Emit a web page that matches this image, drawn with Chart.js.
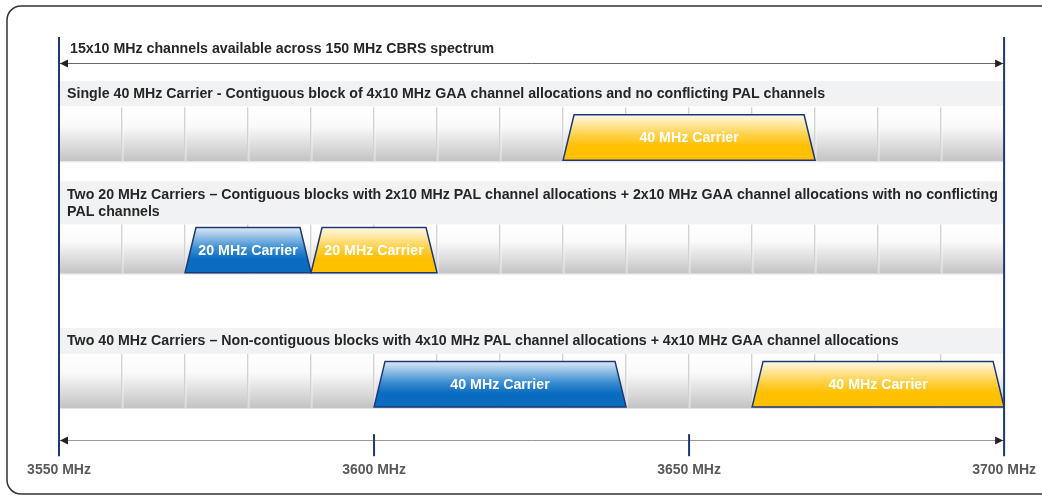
<!DOCTYPE html>
<html lang="en">
<head>
    <meta charset="UTF-8">
    <title>CBRS Channel Allocations</title>
    <script src="https://cdn.jsdelivr.net/npm/chart.js"></script>
    <style>
        html, body { margin: 0; padding: 0; background: #fff; }
        #wrap { width: 1042px; height: 496px; }
    </style>
</head>
<body>
<div id="wrap"><canvas id="myChart"></canvas></div>
<script>
    // ---- data ----
    const spectrumTitle = "15x10 MHz channels available across 150 MHz CBRS spectrum";
    const axisTicks = [3550, 3600, 3650, 3700];
    const channelStarts = [3550, 3560, 3570, 3580, 3590, 3600, 3610, 3620, 3630, 3640, 3650, 3660, 3670, 3680, 3690];
    const channelWidth = 10;
    const rowTitles = [
        ["Single 40 MHz Carrier - Contiguous block of 4x10 MHz GAA channel allocations and no conflicting PAL channels"],
        ["Two 20 MHz Carriers \u2013 Contiguous blocks with 2x10 MHz PAL channel allocations + 2x10 MHz GAA channel allocations with no conflicting",
         "PAL channels"],
        ["Two 40 MHz Carriers \u2013 Non-contiguous blocks with 4x10 MHz PAL channel allocations + 4x10 MHz GAA channel allocations"]
    ];
    const carrierRow = [0, 1, 1, 2, 2];
    const carrierFrom = [3630, 3570, 3590, 3600, 3660];
    const carrierTo = [3670, 3590, 3610, 3640, 3700];
    const carrierKind = ["GAA", "PAL", "GAA", "PAL", "GAA"];
    const carrierLabels = ["40 MHz Carrier", "20 MHz Carrier", "20 MHz Carrier", "40 MHz Carrier", "40 MHz Carrier"];

    // ---- layout (y scale units, 0 = top of plot area) ----
    const rowLayout = [
        { band: [44, 69], text: [57], cells: [70, 124], carrier: [77.5, 123] },
        { band: [144, 187], text: [158, 175], cells: [187, 236], carrier: [190, 235] },
        { band: [290, 316], text: [303], cells: [316, 370], carrier: [323.5, 369] }
    ];
    const titleY = 12, topArrowY = 26, bottomArrowY = 402, tickTop = 396;
    const FONT = '"Liberation Sans", Arial, Helvetica, sans-serif';
    const navy = "#1d3876";
    const kindColors = {
        PAL: { top: "#dde9f6", mid: "#3d8fd2", bottom: "#0a6cbf" },
        GAA: { top: "#fffaea", mid: "#ffd046", bottom: "#ffc000" }
    };

    function arrowHead(ctx, x, y, dir) {
        ctx.beginPath();
        ctx.moveTo(x, y);
        ctx.lineTo(x - dir * 8, y - 4);
        ctx.lineTo(x - dir * 8, y + 4);
        ctx.closePath();
        ctx.fill();
    }

    const framePlugin = {
        id: "frame",
        beforeDraw(chart) {
            const ctx = chart.ctx;
            ctx.save();
            ctx.strokeStyle = "#333";
            ctx.lineWidth = 1.5;
            ctx.beginPath();
            ctx.roundRect(7, 6, chart.width + 20, 488, 14);
            ctx.stroke();
            ctx.restore();
        }
    };

    const spectrumPlugin = {
        id: "spectrum",
        afterDraw(chart) {
            const ctx = chart.ctx;
            const x = chart.scales.x, y = chart.scales.y;
            const xl = x.getPixelForValue(axisTicks[0]);
            const xr = x.getPixelForValue(axisTicks[axisTicks.length - 1]);
            ctx.save();

            // spectrum title + arrows
            ctx.font = "bold 14.2px " + FONT;
            ctx.fillStyle = "#262626";
            ctx.textBaseline = "middle";
            ctx.fillText(spectrumTitle, xl + 11, y.getPixelForValue(titleY));

            [topArrowY, bottomArrowY].forEach((v, i) => {
                const py = Math.round(y.getPixelForValue(v)) + 0.5;
                ctx.strokeStyle = i === 0 ? "#666" : "#999";
                ctx.lineWidth = 1;
                ctx.beginPath();
                ctx.moveTo(xl, py);
                ctx.lineTo(xr, py);
                ctx.stroke();
                ctx.fillStyle = "#222";
                arrowHead(ctx, xl + 1, py, -1);
                arrowHead(ctx, xr - 1, py, 1);
            });

            rowLayout.forEach((row, r) => {
                // header band
                const b0 = y.getPixelForValue(row.band[0]), b1 = y.getPixelForValue(row.band[1]);
                ctx.fillStyle = "#f1f2f4";
                ctx.fillRect(xl, b0, xr - xl, b1 - b0);
                ctx.font = "bold 14.2px " + FONT;
                ctx.fillStyle = "#262626";
                ctx.textBaseline = "middle";
                rowTitles[r].forEach((line, k) => {
                    ctx.fillText(line, xl + 8, y.getPixelForValue(row.text[k]));
                });

                // channel cells
                const c0 = y.getPixelForValue(row.cells[0]), c1 = y.getPixelForValue(row.cells[1]);
                const g = ctx.createLinearGradient(0, c0, 0, c1);
                g.addColorStop(0, "#ffffff");
                g.addColorStop(0.35, "#fafafa");
                g.addColorStop(1, "#c3c3c3");
                channelStarts.forEach(s => {
                    const a = x.getPixelForValue(s), e = x.getPixelForValue(s + channelWidth);
                    ctx.fillStyle = g;
                    ctx.fillRect(a, c0, e - a, c1 - c0);
                    if (s > channelStarts[0]) {
                        ctx.fillStyle = "#d2d2d2";
                        ctx.fillRect(Math.round(a) - 1, c0, 1.5, c1 - c0);
                        ctx.fillStyle = "rgba(255,255,255,0.6)";
                        ctx.fillRect(Math.round(a) + 0.5, c0, 1, c1 - c0);
                    }
                });
                ctx.fillStyle = "#e6e6e6";
                ctx.fillRect(xl, c1, xr - xl, 1);
            });

            // carriers
            carrierFrom.forEach((from, i) => {
                const row = rowLayout[carrierRow[i]];
                const a = x.getPixelForValue(from), e = x.getPixelForValue(carrierTo[i]);
                const t = y.getPixelForValue(row.carrier[0]), bt = y.getPixelForValue(row.carrier[1]);
                const inset = 11;
                const col = kindColors[carrierKind[i]];
                const g = ctx.createLinearGradient(0, t, 0, bt);
                g.addColorStop(0, col.top);
                g.addColorStop(0.45, col.mid);
                g.addColorStop(0.7, col.bottom);
                g.addColorStop(1, col.bottom);
                ctx.beginPath();
                ctx.moveTo(a, bt);
                ctx.lineTo(a + inset, t);
                ctx.lineTo(e - inset, t);
                ctx.lineTo(e, bt);
                ctx.closePath();
                ctx.fillStyle = g;
                ctx.fill();
                ctx.strokeStyle = navy;
                ctx.lineWidth = 1.5;
                ctx.lineJoin = "miter";
                ctx.stroke();

                ctx.font = "bold 14.2px " + FONT;
                ctx.fillStyle = "#ffffff";
                ctx.textAlign = "center";
                ctx.textBaseline = "middle";
                ctx.fillText(carrierLabels[i], (a + e) / 2, (t + bt) / 2 + 1);
                ctx.textAlign = "left";
            });

            // navy markers
            ctx.strokeStyle = navy;
            ctx.lineWidth = 2;
            axisTicks.forEach((v, i) => {
                const px = x.getPixelForValue(v);
                const edge = i === 0 || i === axisTicks.length - 1;
                ctx.beginPath();
                ctx.moveTo(px, edge ? y.getPixelForValue(0) : y.getPixelForValue(tickTop));
                ctx.lineTo(px, y.getPixelForValue(418));
                ctx.stroke();
            });
            ctx.restore();
        }
    };

    new Chart(document.getElementById("myChart"), {
        type: "scatter",
        data: { datasets: [{ data: [], showLine: false }] },
        options: {
            responsive: true,
            maintainAspectRatio: false,
            animation: false,
            layout: { padding: { left: 59, right: 37, top: 37, bottom: 11 } },
            plugins: {
                legend: { display: false },
                tooltip: { enabled: false }
            },
            scales: {
                x: {
                    type: "linear",
                    min: axisTicks[0],
                    max: axisTicks[axisTicks.length - 1],
                    afterBuildTicks: axis => { axis.ticks = axisTicks.map(v => ({ value: v })); },
                    grid: { display: false, drawTicks: false },
                    border: { display: false },
                    ticks: {
                        padding: 6,
                        color: "#595959",
                        font: { family: FONT, size: 14, weight: "bold" },
                        maxRotation: 0,
                        autoSkip: false,
                        callback: v => v + " MHz"
                    }
                },
                y: {
                    type: "linear",
                    min: 0,
                    max: 418,
                    reverse: true,
                    display: false
                }
            }
        },
        plugins: [framePlugin, spectrumPlugin]
    });
</script>
</body>
</html>
